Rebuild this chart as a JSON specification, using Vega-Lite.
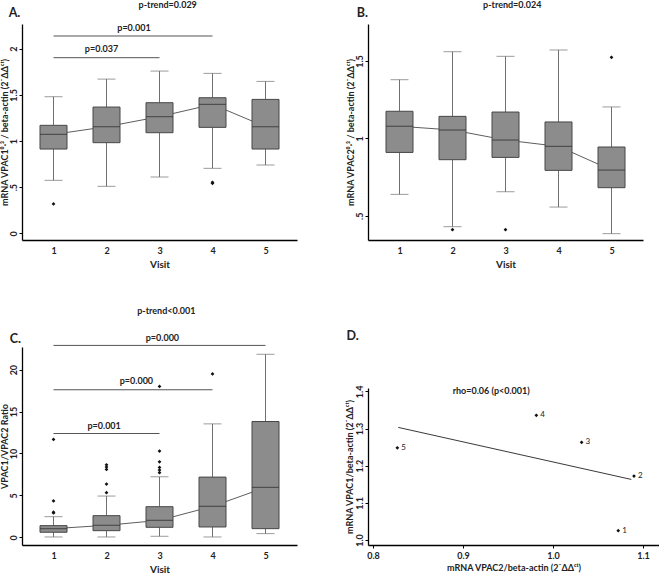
{
  "$schema": "https://vega.github.io/schema/vega-lite/v6.json",
  "padding": {"left": 0, "top": 0, "right": 0, "bottom": 0},
  "background": "white",
  "config": {
    "font": "Lato",
    "view": {"stroke": null},
    "axis": {"grid": false, "domainColor": "#000", "domainWidth": 1.3, "tickColor": "#000", "tickSize": 3, "labelFont": "Lato", "labelFontWeight": "bold", "labelFontSize": 9, "labelColor": "#222", "titleFont": "Lato", "titleFontWeight": "bold", "titleFontSize": 9, "titleColor": "#222"},
    "text": {"font": "Lato", "fontWeight": "bold", "fontSize": 9, "color": "#222"}
  },
  "datasets": {
    "A_box": [
      {"visit": 1, "lo": 0.574, "q1": 0.913, "med": 1.072, "q3": 1.17, "hi": 1.48},
      {"visit": 2, "lo": 0.509, "q1": 0.982, "med": 1.155, "q3": 1.368, "hi": 1.671},
      {"visit": 3, "lo": 0.61, "q1": 1.09, "med": 1.264, "q3": 1.415, "hi": 1.758},
      {"visit": 4, "lo": 0.704, "q1": 1.148, "med": 1.397, "q3": 1.469, "hi": 1.733},
      {"visit": 5, "lo": 0.74, "q1": 0.913, "med": 1.155, "q3": 1.451, "hi": 1.646}
    ],
    "A_out": [
      {"visit": 1, "value": 0.318},
      {"visit": 4, "value": 0.542},
      {"visit": 4, "value": 0.553}
    ],
    "A_br": [
      {"x1": 1, "x2": 3, "y": 1.903},
      {"x1": 1, "x2": 4, "y": 2.138}
    ],
    "B_box": [
      {"visit": 1, "lo": 0.638, "q1": 0.909, "med": 1.078, "q3": 1.175, "hi": 1.379},
      {"visit": 2, "lo": 0.429, "q1": 0.862, "med": 1.054, "q3": 1.142, "hi": 1.56},
      {"visit": 3, "lo": 0.655, "q1": 0.877, "med": 0.989, "q3": 1.17, "hi": 1.53},
      {"visit": 4, "lo": 0.556, "q1": 0.793, "med": 0.948, "q3": 1.106, "hi": 1.571},
      {"visit": 5, "lo": 0.384, "q1": 0.681, "med": 0.795, "q3": 0.944, "hi": 1.203}
    ],
    "B_out": [
      {"visit": 2, "value": 0.41},
      {"visit": 3, "value": 0.41},
      {"visit": 5, "value": 1.524}
    ],
    "C_box": [
      {"visit": 1, "lo": 0.04, "q1": 0.6, "med": 1.03, "q3": 1.39, "hi": 2.46},
      {"visit": 2, "lo": 0.04, "q1": 0.79, "med": 1.43, "q3": 2.58, "hi": 4.92},
      {"visit": 3, "lo": 0.12, "q1": 1.19, "med": 2.02, "q3": 3.65, "hi": 7.22},
      {"visit": 4, "lo": 0.04, "q1": 1.23, "med": 3.69, "q3": 7.18, "hi": 13.53},
      {"visit": 5, "lo": 0.44, "q1": 1.03, "med": 5.95, "q3": 13.81, "hi": 21.83}
    ],
    "C_out": [
      {"visit": 1, "value": 2.9}, {"visit": 1, "value": 3.0}, {"visit": 1, "value": 4.33}, {"visit": 1, "value": 11.67},
      {"visit": 2, "value": 5.32}, {"visit": 2, "value": 6.35}, {"visit": 2, "value": 8.1}, {"visit": 2, "value": 8.37}, {"visit": 2, "value": 8.65},
      {"visit": 3, "value": 7.7}, {"visit": 3, "value": 8.02}, {"visit": 3, "value": 8.33}, {"visit": 3, "value": 9.0}, {"visit": 3, "value": 10.28}, {"visit": 3, "value": 18.0},
      {"visit": 4, "value": 19.48}
    ],
    "C_br": [
      {"x1": 1, "x2": 3, "y": 12.38},
      {"x1": 1, "x2": 4, "y": 17.6},
      {"x1": 1, "x2": 5, "y": 22.89}
    ],
    "D_pts": [
      {"visit": "1", "vpac2": 1.0725, "vpac1": 1.025},
      {"visit": "2", "vpac2": 1.09, "vpac1": 1.172},
      {"visit": "3", "vpac2": 1.0318, "vpac1": 1.263},
      {"visit": "4", "vpac2": 0.9815, "vpac1": 1.3356},
      {"visit": "5", "vpac2": 0.827, "vpac1": 1.248}
    ],
    "D_fit": [
      {"vpac2": 0.828, "vpac1": 1.303},
      {"vpac2": 1.087, "vpac1": 1.163}
    ]
  },
  "bounds": "flush",
  "align": "each",
  "columns": 2,
  "spacing": {"row": 107, "column": 71},
  "concat": [
    {
      "width": 275, "height": 216,
      "layer": [
        {"data": {"name": "A_box"}, "mark": {"type": "line", "color": "#333", "strokeWidth": 0.8},
         "encoding": {
           "x": {"field": "visit", "type": "quantitative", "scale": {"domain": [0.5, 5.5], "nice": false, "zero": false},
                 "axis": {"values": [1, 2, 3, 4, 5], "format": "d", "title": "Visit", "titleFontSize": 10, "ticks": false, "labelPadding": 6, "titlePadding": 4}},
           "y": {"field": "med", "type": "quantitative", "scale": {"domain": [-0.0726, 2.268], "nice": false, "zero": false},
                 "axis": {"values": [0, 0.5, 1, 1.5, 2], "labelExpr": "datum.value == 0.5 ? '.5' : format(datum.value, '~g')", "labelAngle": -90, "labelAlign": "center", "labelBaseline": "bottom", "labelPadding": 1, "titlePadding": 0, "title": "mRNA VPAC1⁰·³ / beta-actin (2⁻ΔΔᶜᵗ)"}}
         }},
        {"data": {"name": "A_box"}, "mark": {"type": "rule", "color": "#707070", "strokeWidth": 1},
         "encoding": {"x": {"field": "visit", "type": "quantitative"}, "y": {"field": "lo", "type": "quantitative"}, "y2": {"field": "q1"}}},
        {"data": {"name": "A_box"}, "mark": {"type": "rule", "color": "#707070", "strokeWidth": 1},
         "encoding": {"x": {"field": "visit", "type": "quantitative"}, "y": {"field": "q3", "type": "quantitative"}, "y2": {"field": "hi"}}},
        {"data": {"name": "A_box"}, "mark": {"type": "tick", "orient": "horizontal", "size": 18, "thickness": 1, "color": "#707070"},
         "encoding": {"x": {"field": "visit", "type": "quantitative"}, "y": {"field": "lo", "type": "quantitative"}}},
        {"data": {"name": "A_box"}, "mark": {"type": "tick", "orient": "horizontal", "size": 18, "thickness": 1, "color": "#707070"},
         "encoding": {"x": {"field": "visit", "type": "quantitative"}, "y": {"field": "hi", "type": "quantitative"}}},
        {"data": {"name": "A_box"}, "mark": {"type": "bar", "size": 27, "color": "#8c8c8c", "stroke": "#474747", "strokeWidth": 1},
         "encoding": {"x": {"field": "visit", "type": "quantitative"}, "y": {"field": "q1", "type": "quantitative"}, "y2": {"field": "q3"}}},
        {"data": {"name": "A_box"}, "mark": {"type": "tick", "orient": "horizontal", "size": 27, "thickness": 1.2, "color": "#333"},
         "encoding": {"x": {"field": "visit", "type": "quantitative"}, "y": {"field": "med", "type": "quantitative"}}},
        {"data": {"name": "A_out"}, "mark": {"type": "point", "shape": "diamond", "filled": true, "color": "#111", "size": 14, "opacity": 1},
         "encoding": {"x": {"field": "visit", "type": "quantitative"}, "y": {"field": "value", "type": "quantitative"}}},
        {"data": {"name": "A_br"}, "mark": {"type": "rule", "color": "#555", "strokeWidth": 1},
         "encoding": {"x": {"field": "x1", "type": "quantitative"}, "x2": {"field": "x2"}, "y": {"field": "y", "type": "quantitative"}}},
        {"data": {"values": [
           {"x": 3.155, "y": 2.473, "label": "p-trend=0.029"},
           {"x": 2.518, "y": 2.228, "label": "p=0.001"},
           {"x": 1.906, "y": 1.993, "label": "p=0.037"}
         ]},
         "mark": {"type": "text", "fontSize": 9, "align": "center", "baseline": "middle"},
         "encoding": {"x": {"field": "x", "type": "quantitative"}, "y": {"field": "y", "type": "quantitative"}, "text": {"field": "label"}}},
        {"data": {"values": [{"x": 0.264, "y": 2.39, "label": "A."}]},
         "mark": {"type": "text", "fontSize": 12.5, "align": "center", "baseline": "middle"},
         "encoding": {"x": {"field": "x", "type": "quantitative"}, "y": {"field": "y", "type": "quantitative"}, "text": {"field": "label"}}}
      ]
    },
    {
      "width": 275, "height": 216,
      "layer": [
        {"data": {"name": "B_box"}, "mark": {"type": "line", "color": "#333", "strokeWidth": 0.8},
         "encoding": {
           "x": {"field": "visit", "type": "quantitative", "scale": {"domain": [0.5, 5.5], "nice": false, "zero": false},
                 "axis": {"values": [1, 2, 3, 4, 5], "format": "d", "title": "Visit", "titleFontSize": 10, "ticks": false, "labelPadding": 6, "titlePadding": 4}},
           "y": {"field": "med", "type": "quantitative", "scale": {"domain": [0.343, 1.739], "nice": false, "zero": false},
                 "axis": {"values": [0.5, 1, 1.5], "labelExpr": "datum.value == 0.5 ? '.5' : format(datum.value, '~g')", "labelAngle": -90, "labelAlign": "center", "labelBaseline": "bottom", "labelPadding": 1, "titlePadding": 0, "title": "mRNA VPAC2⁰·³ / beta-actin (2⁻ΔΔᶜᵗ)"}}
         }},
        {"data": {"name": "B_box"}, "mark": {"type": "rule", "color": "#707070", "strokeWidth": 1},
         "encoding": {"x": {"field": "visit", "type": "quantitative"}, "y": {"field": "lo", "type": "quantitative"}, "y2": {"field": "q1"}}},
        {"data": {"name": "B_box"}, "mark": {"type": "rule", "color": "#707070", "strokeWidth": 1},
         "encoding": {"x": {"field": "visit", "type": "quantitative"}, "y": {"field": "q3", "type": "quantitative"}, "y2": {"field": "hi"}}},
        {"data": {"name": "B_box"}, "mark": {"type": "tick", "orient": "horizontal", "size": 18, "thickness": 1, "color": "#707070"},
         "encoding": {"x": {"field": "visit", "type": "quantitative"}, "y": {"field": "lo", "type": "quantitative"}}},
        {"data": {"name": "B_box"}, "mark": {"type": "tick", "orient": "horizontal", "size": 18, "thickness": 1, "color": "#707070"},
         "encoding": {"x": {"field": "visit", "type": "quantitative"}, "y": {"field": "hi", "type": "quantitative"}}},
        {"data": {"name": "B_box"}, "mark": {"type": "bar", "size": 27, "color": "#8c8c8c", "stroke": "#474747", "strokeWidth": 1},
         "encoding": {"x": {"field": "visit", "type": "quantitative"}, "y": {"field": "q1", "type": "quantitative"}, "y2": {"field": "q3"}}},
        {"data": {"name": "B_box"}, "mark": {"type": "tick", "orient": "horizontal", "size": 27, "thickness": 1.2, "color": "#333"},
         "encoding": {"x": {"field": "visit", "type": "quantitative"}, "y": {"field": "med", "type": "quantitative"}}},
        {"data": {"name": "B_out"}, "mark": {"type": "point", "shape": "diamond", "filled": true, "color": "#111", "size": 14, "opacity": 1},
         "encoding": {"x": {"field": "visit", "type": "quantitative"}, "y": {"field": "value", "type": "quantitative"}}},
        {"data": {"values": [{"x": 3.127, "y": 1.862, "label": "p-trend=0.024"}]},
         "mark": {"type": "text", "fontSize": 9, "align": "center", "baseline": "middle"},
         "encoding": {"x": {"field": "x", "type": "quantitative"}, "y": {"field": "y", "type": "quantitative"}, "text": {"field": "label"}}},
        {"data": {"values": [{"x": 0.3, "y": 1.812, "label": "B."}]},
         "mark": {"type": "text", "fontSize": 12.5, "align": "center", "baseline": "middle"},
         "encoding": {"x": {"field": "x", "type": "quantitative"}, "y": {"field": "y", "type": "quantitative"}, "text": {"field": "label"}}}
      ]
    },
    {
      "width": 275, "height": 198,
      "layer": [
        {"data": {"name": "C_box"}, "mark": {"type": "line", "color": "#333", "strokeWidth": 0.8},
         "encoding": {
           "x": {"field": "visit", "type": "quantitative", "scale": {"domain": [0.5, 5.5], "nice": false, "zero": false},
                 "axis": {"values": [1, 2, 3, 4, 5], "format": "d", "title": "Visit", "titleFontSize": 10, "ticks": false, "labelPadding": 6, "titlePadding": 4}},
           "y": {"field": "med", "type": "quantitative", "scale": {"domain": [-0.92, 22.7], "nice": false, "zero": false},
                 "axis": {"values": [0, 5, 10, 15, 20], "format": "d", "labelAngle": -90, "labelAlign": "center", "labelBaseline": "bottom", "labelPadding": 1, "titlePadding": 0, "title": "VPAC1/VPAC2 Ratio"}}
         }},
        {"data": {"name": "C_box"}, "mark": {"type": "rule", "color": "#707070", "strokeWidth": 1},
         "encoding": {"x": {"field": "visit", "type": "quantitative"}, "y": {"field": "lo", "type": "quantitative"}, "y2": {"field": "q1"}}},
        {"data": {"name": "C_box"}, "mark": {"type": "rule", "color": "#707070", "strokeWidth": 1},
         "encoding": {"x": {"field": "visit", "type": "quantitative"}, "y": {"field": "q3", "type": "quantitative"}, "y2": {"field": "hi"}}},
        {"data": {"name": "C_box"}, "mark": {"type": "tick", "orient": "horizontal", "size": 18, "thickness": 1, "color": "#707070"},
         "encoding": {"x": {"field": "visit", "type": "quantitative"}, "y": {"field": "lo", "type": "quantitative"}}},
        {"data": {"name": "C_box"}, "mark": {"type": "tick", "orient": "horizontal", "size": 18, "thickness": 1, "color": "#707070"},
         "encoding": {"x": {"field": "visit", "type": "quantitative"}, "y": {"field": "hi", "type": "quantitative"}}},
        {"data": {"name": "C_box"}, "mark": {"type": "bar", "size": 27, "color": "#8c8c8c", "stroke": "#474747", "strokeWidth": 1},
         "encoding": {"x": {"field": "visit", "type": "quantitative"}, "y": {"field": "q1", "type": "quantitative"}, "y2": {"field": "q3"}}},
        {"data": {"name": "C_box"}, "mark": {"type": "tick", "orient": "horizontal", "size": 27, "thickness": 1.2, "color": "#333"},
         "encoding": {"x": {"field": "visit", "type": "quantitative"}, "y": {"field": "med", "type": "quantitative"}}},
        {"data": {"name": "C_out"}, "mark": {"type": "point", "shape": "diamond", "filled": true, "color": "#111", "size": 14, "opacity": 1},
         "encoding": {"x": {"field": "visit", "type": "quantitative"}, "y": {"field": "value", "type": "quantitative"}}},
        {"data": {"name": "C_br"}, "mark": {"type": "rule", "color": "#555", "strokeWidth": 1},
         "encoding": {"x": {"field": "x1", "type": "quantitative"}, "x2": {"field": "x2"}, "y": {"field": "y", "type": "quantitative"}}},
        {"data": {"values": [
           {"x": 3.13, "y": 26.94, "label": "p-trend<0.001"},
           {"x": 3.055, "y": 23.8, "label": "p=0.000"},
           {"x": 2.564, "y": 18.6, "label": "p=0.000"},
           {"x": 1.955, "y": 13.3, "label": "p=0.001"}
         ]},
         "mark": {"type": "text", "fontSize": 9, "align": "center", "baseline": "middle"},
         "encoding": {"x": {"field": "x", "type": "quantitative"}, "y": {"field": "y", "type": "quantitative"}, "text": {"field": "label"}}},
        {"data": {"values": [{"x": 0.282, "y": 23.7, "label": "C."}]},
         "mark": {"type": "text", "fontSize": 12.5, "align": "center", "baseline": "middle"},
         "encoding": {"x": {"field": "x", "type": "quantitative"}, "y": {"field": "y", "type": "quantitative"}, "text": {"field": "label"}}}
      ]
    },
    {
      "width": 291, "height": 198,
      "layer": [
        {"data": {"name": "D_fit"}, "mark": {"type": "line", "color": "#222", "strokeWidth": 0.9},
         "encoding": {
           "x": {"field": "vpac2", "type": "quantitative", "scale": {"domain": [0.7944, 1.1178], "nice": false, "zero": false},
                 "axis": {"values": [0.8, 0.9, 1.0, 1.1], "format": ".1f", "title": "mRNA VPAC2/beta-actin  (2⁻ΔΔᶜᵗ)", "titleFontSize": 9, "labelPadding": 3, "titlePadding": 3}},
           "y": {"field": "vpac1", "type": "quantitative", "scale": {"domain": [0.9866, 1.409], "range": [198, 41], "nice": false, "zero": false},
                 "axis": {"values": [1.0, 1.1, 1.2, 1.3, 1.4], "format": ".1f", "labelAngle": -90, "labelAlign": "center", "labelBaseline": "bottom", "labelPadding": 1, "titlePadding": 1, "title": "mRNA VPAC1/beta-actin  (2⁻ΔΔᶜᵗ)"}}
         }},
        {"data": {"name": "D_pts"}, "mark": {"type": "point", "shape": "diamond", "filled": true, "color": "#111", "size": 14, "opacity": 1},
         "encoding": {"x": {"field": "vpac2", "type": "quantitative"}, "y": {"field": "vpac1", "type": "quantitative"}}},
        {"data": {"name": "D_pts"}, "mark": {"type": "text", "fontSize": 8, "fontWeight": "normal", "align": "left", "baseline": "middle", "dx": 4},
         "encoding": {"x": {"field": "vpac2", "type": "quantitative"}, "y": {"field": "vpac1", "type": "quantitative"}, "text": {"field": "visit"}}},
        {"data": {"values": [{"x": 0.9313, "y": 1.4, "label": "rho=0.06 (p<0.001)"}]},
         "mark": {"type": "text", "fontSize": 9, "align": "center", "baseline": "middle"},
         "encoding": {"x": {"field": "x", "type": "quantitative"}, "y": {"field": "y", "type": "quantitative"}, "text": {"field": "label"}}},
        {"data": {"values": [{"x": 0.7774, "y": 1.549, "label": "D."}]},
         "mark": {"type": "text", "fontSize": 12.5, "align": "center", "baseline": "middle"},
         "encoding": {"x": {"field": "x", "type": "quantitative"}, "y": {"field": "y", "type": "quantitative"}, "text": {"field": "label"}}}
      ]
    }
  ]
}
